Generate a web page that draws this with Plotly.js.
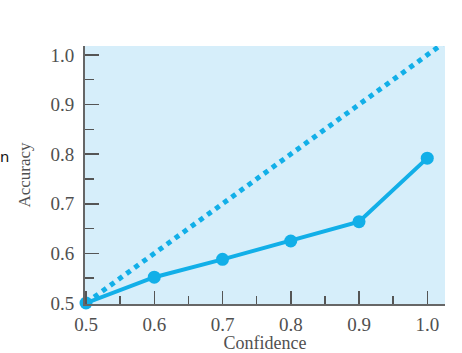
<!DOCTYPE html>
<html><head><meta charset="utf-8">
<script src="https://cdn.plot.ly/plotly-3.0.1.min.js"></script>
<style>html,body{margin:0;padding:0;background:#fff}#chart{width:462px;height:353px}</style>
</head><body><div id="chart"></div>
<script>
const confidence = [0.5, 0.6, 0.7, 0.8, 0.9, 1.0];
const accuracy = [0.5, 0.552, 0.588, 0.625, 0.664, 0.792];
const diagX = [0.5, 1.03];
const diagY = [0.5, 1.03];
const tickVals = [0.5, 0.6, 0.7, 0.8, 0.9, 1.0];
const tickText = ['0.5', '0.6', '0.7', '0.8', '0.9', '1.0'];

const blue = '#12afe8';
const traces = [
  {x: diagX, y: diagY, mode: 'lines', line: {color: blue, width: 5, dash: '5px,5px'}, hoverinfo: 'skip'},
  {x: confidence, y: accuracy, mode: 'lines+markers', line: {color: blue, width: 4},
   marker: {color: blue, size: 13}, cliponaxis: false}
];
const serif = 'Liberation Serif, DejaVu Serif, serif';
const axFont = {family: serif, size: 19, color: '#505050'};
const layout = {
  width: 462, height: 353,
  margin: {l: 85, r: 17, t: 46, b: 49},
  paper_bgcolor: '#ffffff', plot_bgcolor: '#d6eefa',
  showlegend: false,
  xaxis: {range: [0.4985, 1.026], tickvals: tickVals, ticktext: tickText,
    ticks: 'inside', ticklen: 13, tickwidth: 1.5, tickcolor: '#555',
    minor: {ticks: 'inside', ticklen: 8, dtick: 0.05, tick0: 0.5, tickcolor: '#555', tickwidth: 1.5},
    showline: true, linecolor: '#666', linewidth: 2, showgrid: false, zeroline: false,
    ticklabelstandoff: 2,
    tickfont: axFont, title: {text: 'Confidence', font: {family: serif, size: 18, color: '#505050'}, standoff: 22}},
  yaxis: {range: [0.498, 1.018], tickvals: tickVals, ticktext: tickText,
    ticks: 'inside', ticklen: 14, tickwidth: 1.5, tickcolor: '#555',
    minor: {ticks: 'inside', ticklen: 9, dtick: 0.05, tick0: 0.5, tickcolor: '#555', tickwidth: 1.5},
    showline: true, linecolor: '#666', linewidth: 2, showgrid: false, zeroline: false,
    ticklabelstandoff: 5,
    tickfont: axFont, title: {text: 'Accuracy', font: {family: serif, size: 17, color: '#505050'}, standoff: 16}},
  annotations: [
    {text: 'n', xref: 'paper', yref: 'paper', x: -0.205, y: 0.575, xanchor: 'right', yanchor: 'middle',
     showarrow: false, font: {family: 'Noto Sans, sans-serif', size: 15, color: '#111'}}
  ]
};
Plotly.newPlot('chart', traces, layout, {displayModeBar: false, staticPlot: true});
</script></body></html>
